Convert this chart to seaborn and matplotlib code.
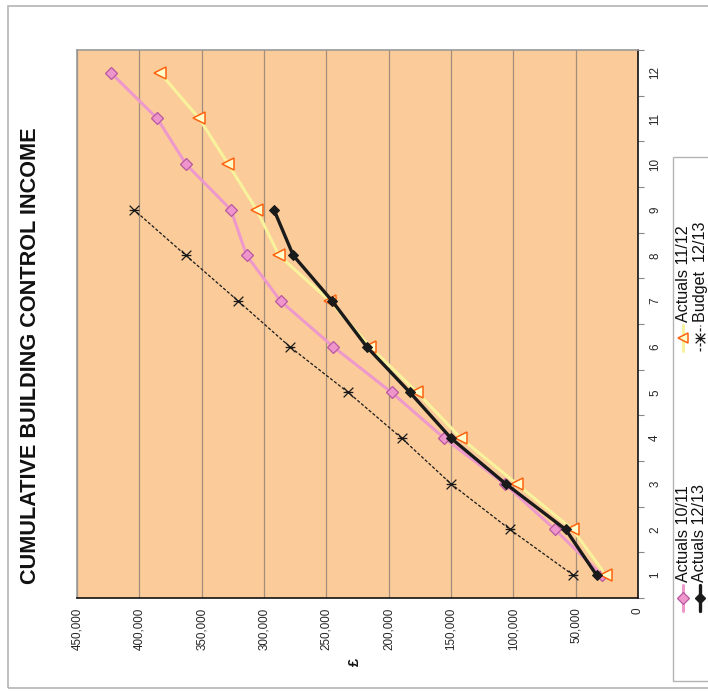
import matplotlib
matplotlib.use("Agg")
import matplotlib.pyplot as plt
import seaborn as sns
from matplotlib.lines import Line2D
from matplotlib.patches import Rectangle
from matplotlib.path import Path
from matplotlib.ticker import FuncFormatter

# data (months 1-12, cumulative income in £)
months = [1, 2, 3, 4, 5, 6, 7, 8, 9, 10, 11, 12]
actuals_1011 = [29000, 66600, 107000, 155400, 197600, 244400,
                286600, 313900, 326500, 362600, 385600, 422800]
actuals_1112 = [25700, 52400, 97300, 142000, 177000, 215000,
                247000, 288000, 305900, 328700, 352000, 383400]
actuals_1213 = [33200, 58000, 106100, 150000, 182900, 217600,
                245200, 276500, 292000]
budget_1213 = [51900, 102700, 150000, 189600, 232400, 279200,
               320600, 362600, 404300]
value_ticks = [0, 50000, 100000, 150000, 200000, 250000, 300000, 350000, 400000, 450000]

title = "CUMULATIVE BUILDING CONTROL INCOME"
series_names = ["Actuals 10/11", "Actuals 11/12", "Actuals 12/13", "Budget  12/13"]

sns.set_style("white")
plt.rcParams["font.family"] = ["Liberation Sans", "DejaVu Sans"]

W, H = 708, 691
fig = plt.figure(figsize=(W / 100, H / 100), dpi=100)

def fx(px):
    return px / W

def fy(py):
    return 1 - py / H

# outer chart border (runs off the right edge, as in the original)
fig.patches.append(Rectangle((fx(7.5), fy(688)), 1.2, fy(5.5) - fy(688),
                             transform=fig.transFigure, fill=False,
                             edgecolor="#b4b4b4", lw=1.2))

# the whole chart is turned a quarter turn: values run along x, months along y
ax = fig.add_axes([fx(77), fy(598), fx(638) - fx(77), fy(50) - fy(598)])
ax.set_facecolor("#fbcb99")

star = Path([(-1, -1), (1, 1), (-1, 1), (1, -1), (-1, 0), (1, 0)],
            [Path.MOVETO, Path.LINETO, Path.MOVETO, Path.LINETO, Path.MOVETO, Path.LINETO])

pink_style = dict(color="#ee99cc", lw=2.2, marker="D", markersize=6.6,
                  markerfacecolor="#ee96cc", markeredgecolor="#b9569f", markeredgewidth=0.9)
yellow_style = dict(color="#f8f29c", lw=2.2, marker="<", markersize=8.6,
                    markerfacecolor="#ffffcc", markeredgecolor="#ff6210", markeredgewidth=1.1)
black_style = dict(color="#1a1a1a", lw=2.4, marker="D", markersize=5.6,
                   markerfacecolor="#1a1a1a", markeredgecolor="#1a1a1a")
budget_style = dict(color="#1a1a1a", lw=0.9, ls=(0, (2.5, 1.5)), marker=star, markersize=7,
                    markeredgecolor="#1a1a1a", markeredgewidth=0.9)

sns.lineplot(x=actuals_1011, y=months, sort=False, estimator=None, ax=ax, **pink_style)
sns.lineplot(x=actuals_1112, y=months, sort=False, estimator=None, ax=ax, **yellow_style)
sns.lineplot(x=actuals_1213, y=months[:len(actuals_1213)], sort=False, estimator=None, ax=ax, **black_style)
sns.lineplot(x=budget_1213, y=months[:len(budget_1213)], sort=False, estimator=None, ax=ax, **budget_style)

ax.set_xlim(450000, 0)
ax.set_ylim(0.5, 12.5)
ax.set_xticks(value_ticks)
ax.xaxis.set_major_formatter(FuncFormatter(lambda v, p: f"{int(v):,}"))
ax.grid(axis="x", color="#a38e7b", lw=0.9)
ax.grid(axis="y", visible=False)
ax.set_axisbelow(True)

ax.yaxis.tick_right()
ax.set_yticks(months)
ax.set_yticks([m - 0.5 for m in months] + [12.5], minor=True)
ax.tick_params(axis="y", which="major", length=0, pad=8, labelsize=8.4, labelrotation=90)
ax.tick_params(axis="y", which="minor", length=4, width=0.8, color="#888888", direction="out")
ax.tick_params(axis="x", which="major", length=4, width=0.8, color="#888888",
               direction="out", pad=3, labelsize=8.4, labelrotation=90)
for lab in ax.get_yticklabels():
    lab.set_va("center")
    lab.set_ha("left")
ax.set_xlabel("")
ax.set_ylabel("")

for side in ["top", "left"]:
    ax.spines[side].set_color("#9a9a9a")
    ax.spines[side].set_linewidth(1.2)
for side in ["right", "bottom"]:
    ax.spines[side].set_color("#111111")
    ax.spines[side].set_linewidth(1.2)

# title and axis label, turned like the chart
fig.text(fx(31), fy(356), title, rotation=90, ha="center", va="center",
         fontsize=15.6, fontweight="bold", color="#111111")
fig.text(fx(355), fy(662), "£", rotation=90, ha="center", va="center",
         fontsize=10.5, fontweight="bold", color="#111111")

# legend, drawn by hand because it is turned as well
fig.patches.append(Rectangle((fx(672.5), fy(681)), 0.1, fy(157) - fy(681),
                             transform=fig.transFigure, fill=False,
                             edgecolor="#b4b4b4", lw=1.0))

legend_styles = [pink_style, yellow_style, black_style, budget_style]
legend_pos = [(683, 598), (683, 338), (700, 598), (700, 338)]
for name, style, (lx, ly) in zip(series_names, legend_styles, legend_pos):
    line_kw = {k: v for k, v in style.items() if not k.startswith("marker")}
    fig.lines.append(Line2D([fx(lx), fx(lx)], [fy(ly + 13), fy(ly - 13)],
                            transform=fig.transFigure, **line_kw))
    mark_kw = {k: v for k, v in style.items() if k.startswith("marker")}
    if style is yellow_style:
        mark_kw["markersize"] = 7.5
    fig.lines.append(Line2D([fx(lx)], [fy(ly)], transform=fig.transFigure,
                            ls="none", **mark_kw))
    fig.text(fx(lx), fy(ly - 16), name, rotation=90, ha="center", va="bottom",
             fontsize=11.6, color="#111111")

fig.savefig("out.png", dpi=100)
